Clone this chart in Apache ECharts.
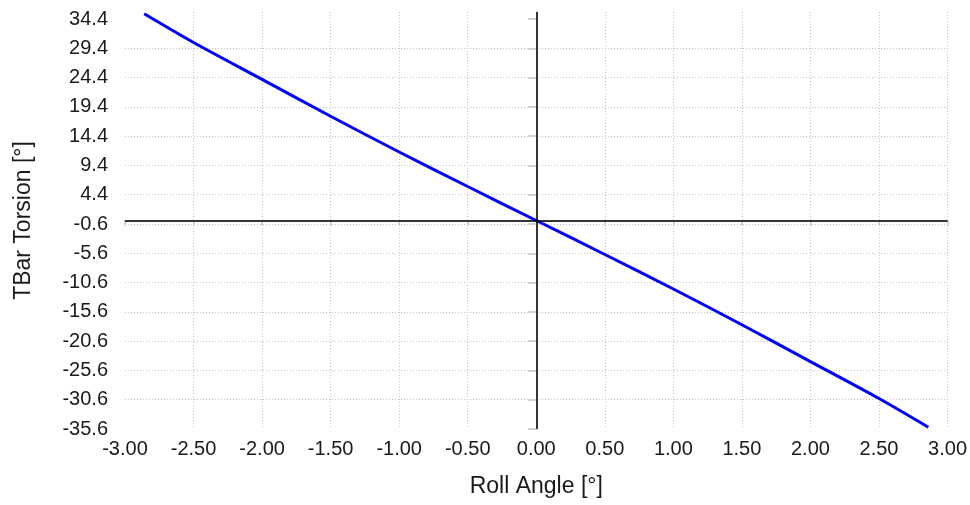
<!DOCTYPE html>
<html>
<head>
<meta charset="utf-8">
<style>
  html, body { margin: 0; padding: 0; background: #fff; }
  #chart { width: 970px; height: 505px; }
</style>
<script src="https://cdn.jsdelivr.net/npm/echarts@6/dist/echarts.min.js"></script>
</head>
<body>
<div id="chart"></div>
<script>
// Data
const rollAngle   = [-2.86, -2.5, -2.0, -1.5, -1.0, -0.5, 0, 0.5, 1.0, 1.5, 2.0, 2.5, 2.86];
const tbarTorsion = [35.3, 30.4, 24.1, 17.8, 11.7, 5.8, 0, -5.8, -11.7, -17.8, -24.1, -30.4, -35.3];
const yTicks = [-35.6, -30.6, -25.6, -20.6, -15.6, -10.6, -5.6, -0.6, 4.4, 9.4, 14.4, 19.4, 24.4, 29.4, 34.4];
const xTickStep = 0.5;

const fontFamily = "'Liberation Sans', Arial, sans-serif";
const chart = echarts.init(document.getElementById('chart'), null, { renderer: 'canvas' });

const gridLine = { show: true, lineStyle: { color: '#c4c4c4', type: [1, 2], width: 1 } };
const axisLine = { show: true, lineStyle: { color: '#d2d2d2', width: 2 } };

chart.setOption({
  animation: false,
  backgroundColor: '#ffffff',
  grid: { left: 125, right: 20, top: 12, bottom: 76 },
  xAxis: {
    type: 'value',
    min: -3, max: 3, interval: xTickStep,
    name: 'Roll Angle [°]',
    nameLocation: 'middle',
    nameGap: 46,
    nameTextStyle: { fontFamily, fontSize: 23, color: '#1a1a1a' },
    axisLine,
    axisTick: { show: true, length: 5, lineStyle: { color: '#d2d2d2', width: 2 } },
    axisLabel: { fontFamily, fontSize: 20, color: '#1a1a1a', margin: 10,
      formatter: v => v.toFixed(2) },
    splitLine: Object.assign({ showMinLine: false }, gridLine)
  },
  yAxis: {
    type: 'value',
    min: -35.6, max: 35.6, interval: 5,
    name: 'TBar Torsion [°]',
    nameLocation: 'middle',
    nameGap: 90,
    nameRotate: 90,
    nameTextStyle: { fontFamily, fontSize: 23, color: '#1a1a1a' },
    axisLine,
    axisTick: { show: true, length: 8, customValues: yTicks, lineStyle: { color: '#d2d2d2', width: 2 } },
    axisLabel: { fontFamily, fontSize: 20, color: '#1a1a1a', margin: 17, customValues: yTicks,
      formatter: v => v.toFixed(1) },
    splitLine: Object.assign({ showMinLine: false, showMaxLine: false }, gridLine)
  },
  series: [
    {
      type: 'line',
      data: [],
      z: 1,
      silent: true,
      markLine: {
        silent: true,
        symbol: ['none', 'none'],
        label: { show: false },
        lineStyle: { color: '#000000', width: 1.5, type: 'solid' },
        data: [{ xAxis: 0 }, { yAxis: 0 }]
      }
    },
    {
      type: 'line',
      z: 3,
      data: rollAngle.map((x, i) => [x, tbarTorsion[i]]),
      smooth: 0.3,
      showSymbol: false,
      lineStyle: { color: '#0000ff', width: 3 },
      itemStyle: { color: '#0000ff' }
    }
  ]
});
</script>
</body>
</html>
